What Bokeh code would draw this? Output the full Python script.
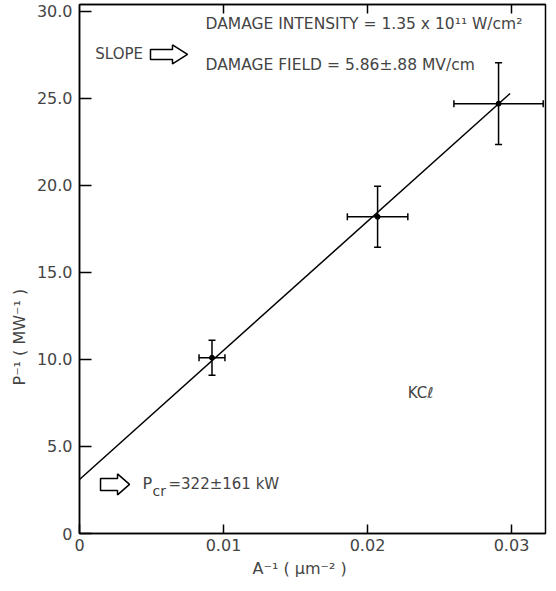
from bokeh.plotting import figure
from bokeh.models import (ColumnDataSource, Whisker, TeeHead, Label, LinearAxis,
                          FixedTicker, Range1d, Title)
from bokeh.embed import file_html
from bokeh.resources import INLINE

# ---- data ----
inv_area = [0.0092, 0.0207, 0.0291]          # A^-1 (um^-2)
inv_power = [10.1, 18.2, 24.7]               # P^-1 (MW^-1)
inv_area_err = [0.0009, 0.0021, 0.0031]
inv_power_err = [1.0, 1.75, 2.35]
fit_intercept = 3.1                          # MW^-1  (Pcr = 322 kW)
fit_slope = 742.0                            # MW^-1 per um^-2
fit_x = [0.0, 0.0299]
x_ticks = [0, 0.01, 0.02, 0.03]
x_tick_labels = ["0", "0.01", "0.02", "0.03"]
y_ticks = [0, 5, 10, 15, 20, 25, 30]
y_tick_labels = ["0", "5.0", "10.0", "15.0", "20.0", "25.0", "30.0"]

FONT = "DejaVu Sans"
X_END, Y_END = 0.03236, 30.4
W, H = 548, 583
MB_L, MB_R, MB_T, MB_B = 79, 3, 4, 50
FRAME_W = W - MB_L - MB_R
FRAME_H = H - MB_T - MB_B
KX = X_END / FRAME_W      # data units per pixel
KY = Y_END / FRAME_H

fit_y = [fit_intercept + fit_slope * v for v in fit_x]

src = ColumnDataSource(dict(
    x=inv_area, y=inv_power,
    y_lo=[a - b for a, b in zip(inv_power, inv_power_err)],
    y_hi=[a + b for a, b in zip(inv_power, inv_power_err)],
    x_lo=[a - b for a, b in zip(inv_area, inv_area_err)],
    x_hi=[a + b for a, b in zip(inv_area, inv_area_err)],
))

p = figure(width=W, height=H, output_backend="svg", toolbar_location=None,
           x_range=Range1d(0, X_END), y_range=Range1d(0, Y_END),
           min_border_left=MB_L, min_border_right=MB_R, min_border_top=MB_T,
           min_border_bottom=MB_B)
p.grid.visible = False
p.outline_line_color = "black"
p.outline_line_width = 1.5
p.background_fill_color = "white"
p.border_fill_color = "white"

# axes
xa = p.xaxis[0]
xa.ticker = FixedTicker(ticks=x_ticks)
xa.major_label_overrides = {t: l for t, l in zip(x_ticks, x_tick_labels)}
xa.major_tick_in = 9
xa.major_tick_out = 0
xa.minor_tick_line_color = None
xa.axis_line_width = 1.5
xa.major_tick_line_width = 1.5
xa.major_label_text_font = FONT
xa.major_label_text_font_size = "16px"
xa.major_label_standoff = 5

ya = p.yaxis[0]
ya.ticker = FixedTicker(ticks=y_ticks)
ya.major_label_overrides = {t: l for t, l in zip(y_ticks, y_tick_labels)}
ya.major_tick_in = 12
ya.major_tick_out = 0
ya.minor_tick_line_color = None
ya.axis_line_width = 1.5
ya.major_tick_line_width = 1.5
ya.major_label_text_font = FONT
ya.major_label_text_font_size = "16px"
ya.major_label_standoff = 7

top = LinearAxis(ticker=FixedTicker(ticks=x_ticks[1:]), major_tick_in=9,
                 major_tick_out=0, minor_tick_line_color=None,
                 major_label_overrides={t: "" for t in x_ticks[1:]},
                 major_label_standoff=0,
                 axis_line_width=1.5, major_tick_line_width=1.5)
p.add_layout(top, "above")

# axis titles, placed like the reference (offset from the frame corner)
p.add_layout(Title(text="P\u207b\u00b9  ( MW\u207b\u00b9 )", align="left",
                   offset=148, text_font=FONT, text_font_size="16px",
                   text_font_style="normal", standoff=10), "left")
p.add_layout(Title(text="A\u207b\u00b9  ( \u03bcm\u207b\u00b2 )", align="left",
                   offset=173, text_font=FONT, text_font_size="16px",
                   text_font_style="normal", standoff=6), "below")

# fit line
p.line(fit_x, fit_y, line_color="black", line_width=1.5)

# error bars
p.add_layout(Whisker(source=src, base="x", lower="y_lo", upper="y_hi",
                     dimension="height", line_width=1.5,
                     upper_head=TeeHead(size=7, line_width=1.5),
                     lower_head=TeeHead(size=7, line_width=1.5)))
p.add_layout(Whisker(source=src, base="y", lower="x_lo", upper="x_hi",
                     dimension="width", line_width=1.5,
                     upper_head=TeeHead(size=7, line_width=1.5),
                     lower_head=TeeHead(size=7, line_width=1.5)))
p.scatter("x", "y", source=src, size=5, color="black")

def lab(x, y, text, size="15px", **kw):
    p.add_layout(Label(x=x, y=y, text=text, text_font=FONT,
                       text_font_size=size, text_baseline="middle", **kw))

lab(0.00875, 29.3, "DAMAGE  INTENSITY = 1.35 x 10\u00b9\u00b9 W/cm\u00b2", size="15.5px")
lab(0.00875, 26.95, "DAMAGE  FIELD = 5.86\u00b1.88 MV/cm", size="15.5px")
lab(0.0011, 27.53, "SLOPE")
lab(0.00437, 2.87, "P", size="16px")
lab(0.00507, 2.45, "cr", size="14px")
lab(0.00618, 2.87, "=322\u00b1161  kW", size="15px")
lab(0.0228, 8.1, "KC\u2113", size="15px")

# hollow block arrows (annotation decorations), shapes in pixels
def hollow_arrow(x0, yc, length, body, head, head_len):
    pts = [(0, body), (length - head_len, body), (length - head_len, head),
           (length, 0), (length - head_len, -head), (length - head_len, -body),
           (0, -body)]
    p.patch([x0 + px * KX for px, _ in pts], [yc + py * KY for _, py in pts],
            fill_color="white", line_color="black", line_width=1.5)

hollow_arrow(0.00493, 27.53, 37, 5, 9.5, 15)
hollow_arrow(0.00146, 2.82, 29, 6, 10.5, 12)

open("out.html", "w").write(file_html(p, INLINE))
